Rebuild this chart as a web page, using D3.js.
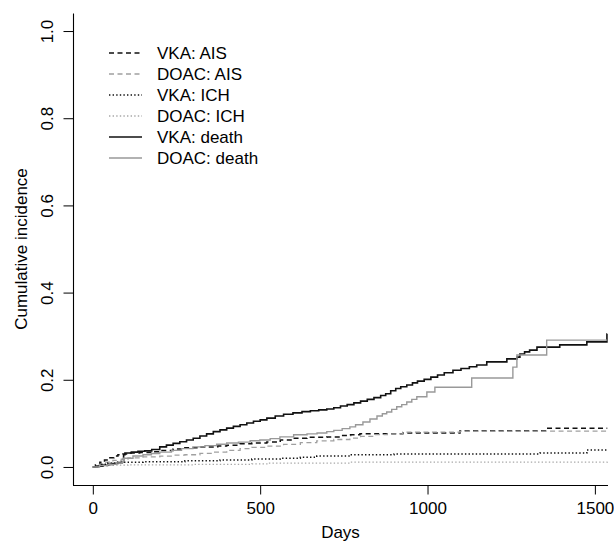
<!DOCTYPE html>
<html>
<head>
<meta charset="utf-8">
<title>Cumulative incidence</title>
<script src="https://d3js.org/d3.v7.min.js"></script>
<style>
  body { margin: 0; background: #fff; }
  svg text { font-family: "Liberation Sans", Arial, Helvetica, sans-serif; fill: #000; }
</style>
</head>
<body>
<div id="chart"></div>
<script>
// step data: [day, cumulative incidence]
var vkaDeath = [[0,0],[15,0.002],[30,0.004],[45,0.006],[60,0.008],[75,0.010],[88,0.012],[92,0.028],[96,0.032],[115,0.034],[135,0.036],[155,0.037],[176,0.040],[200,0.046],[220,0.050],[240,0.054],[260,0.058],[280,0.062],[300,0.066],[320,0.071],[340,0.076],[360,0.081],[380,0.085],[400,0.089],[420,0.093],[440,0.097],[460,0.101],[480,0.105],[500,0.108],[520,0.112],[545,0.117],[570,0.121],[598,0.124],[625,0.127],[650,0.129],[675,0.131],[699,0.133],[720,0.136],[740,0.140],[760,0.143],[780,0.147],[800,0.151],[820,0.155],[840,0.159],[860,0.164],[875,0.168],[890,0.175],[905,0.180],[920,0.184],[938,0.188],[955,0.193],[970,0.197],[990,0.201],[1010,0.206],[1030,0.211],[1050,0.216],[1076,0.222],[1100,0.226],[1125,0.230],[1147,0.234],[1177,0.241],[1237,0.248],[1267,0.252],[1276,0.259],[1290,0.264],[1305,0.268],[1327,0.275],[1395,0.280],[1476,0.287],[1536,0.305],[1537,0.305]];
var doacDeath = [[0,0],[20,0.003],[45,0.006],[70,0.009],[88,0.012],[92,0.020],[120,0.025],[150,0.028],[175,0.031],[200,0.034],[235,0.038],[265,0.042],[299,0.046],[335,0.049],[370,0.052],[400,0.055],[435,0.057],[470,0.060],[499,0.062],[530,0.065],[559,0.069],[600,0.074],[640,0.076],[670,0.078],[699,0.081],[720,0.084],[745,0.088],[768,0.092],[785,0.097],[807,0.103],[828,0.110],[849,0.117],[865,0.122],[878,0.126],[893,0.132],[908,0.138],[923,0.143],[938,0.149],[953,0.155],[968,0.161],[998,0.172],[1022,0.183],[1132,0.204],[1255,0.229],[1267,0.257],[1356,0.291],[1537,0.291]];
var vkaAis = [[0,0],[8,0.005],[21,0.011],[35,0.016],[51,0.021],[63,0.025],[75,0.028],[90,0.030],[105,0.032],[140,0.033],[176,0.035],[200,0.038],[240,0.041],[275,0.044],[320,0.046],[373,0.048],[400,0.050],[440,0.053],[475,0.055],[520,0.057],[560,0.062],[598,0.066],[640,0.068],[699,0.069],[740,0.072],[770,0.074],[798,0.076],[926,0.078],[1097,0.083],[1356,0.089],[1537,0.089]];
var doacAis = [[0,0],[15,0.006],[35,0.011],[60,0.015],[85,0.018],[105,0.021],[150,0.023],[200,0.025],[240,0.027],[275,0.028],[320,0.031],[360,0.034],[400,0.038],[440,0.042],[475,0.045],[520,0.048],[570,0.052],[620,0.056],[669,0.060],[720,0.063],[768,0.066],[800,0.070],[840,0.074],[880,0.076],[926,0.080],[1097,0.082],[1537,0.082]];
var vkaIch = [[0,0],[10,0.003],[25,0.006],[45,0.009],[66,0.011],[150,0.012],[275,0.014],[380,0.016],[475,0.018],[560,0.020],[620,0.022],[669,0.025],[768,0.028],[900,0.030],[1336,0.032],[1476,0.039],[1537,0.039]];
var doacIch = [[0,0],[20,0.002],[50,0.004],[105,0.005],[300,0.006],[475,0.007],[520,0.009],[768,0.011],[1537,0.012]];

var seriesNames = ["VKA: AIS", "DOAC: AIS", "VKA: ICH", "DOAC: ICH", "VKA: death", "DOAC: death"];
var seriesData = [vkaAis, doacAis, vkaIch, doacIch, vkaDeath, doacDeath];

var xTicks = [0, 500, 1000, 1500];
var yTicks = [0, 0.2, 0.4, 0.6, 0.8, 1.0];

// line styles, same order as the names
var styles = [
    {color: "#111", width: 1.5, dash: "5,3.5"},
    {color: "#a0a0a0", width: 1.3, dash: "5,3.5"},
    {color: "#111", width: 1.5, dash: "1.4,2.2"},
    {color: "#a8a8a8", width: 1.3, dash: "1.4,2.2"},
    {color: "#111", width: 1.6, dash: null},
    {color: "#999", width: 1.4, dash: null}
];

var width = 614, height = 542;
var fontSize = 17;

var svg = d3.select("#chart").append("svg")
    .attr("width", width)
    .attr("height", height);

// R style: 4% padding round the data range
var x = d3.scaleLinear().domain([-59.2, 1539.2]).range([73, 608]);
var y = d3.scaleLinear().domain([-0.04, 1.04]).range([484.4, 13.6]);

var line = d3.line()
    .x(function(d) { return x(d[0]); })
    .y(function(d) { return y(d[1]); })
    .curve(d3.curveStepAfter);

for (let i = 0; i < seriesData.length; i++) {
    let p = svg.append("path")
        .attr("d", line(seriesData[i]))
        .attr("fill", "none")
        .attr("stroke", styles[i].color)
        .attr("stroke-width", styles[i].width);
    if (styles[i].dash) p.attr("stroke-dasharray", styles[i].dash);
}

// axes (box type "l")
var xAxis = d3.axisBottom(x).tickValues(xTicks).tickSize(9.5).tickPadding(7).tickFormat(d3.format("d"));
var gx = svg.append("g").attr("transform", "translate(0,485)").call(xAxis);
gx.select(".domain").attr("d", "M73,0.5H608");

var yAxis = d3.axisLeft(y).tickValues(yTicks).tickSize(9.5).tickFormat(d3.format(".1f"));
var gy = svg.append("g").attr("transform", "translate(73,0)").call(yAxis);
gy.select(".domain").attr("d", "M0.5,13.6V485");

svg.selectAll(".tick line").attr("stroke", "#000");
svg.selectAll(".domain").attr("stroke", "#000").attr("stroke-width", 1.1);
gx.selectAll("text").attr("font-size", fontSize).attr("font-family", null);

gy.selectAll("text")
    .attr("font-size", fontSize)
    .attr("font-family", null)
    .attr("x", null).attr("dy", null)
    .attr("text-anchor", "middle")
    .attr("transform", "translate(-20,0) rotate(-90)");

svg.append("text")
    .attr("x", (73 + 608) / 2).attr("y", 538)
    .attr("text-anchor", "middle")
    .attr("font-size", fontSize)
    .text("Days");

svg.append("text")
    .attr("transform", "translate(27," + y(0.5) + ") rotate(-90)")
    .attr("text-anchor", "middle")
    .attr("font-size", fontSize)
    .text("Cumulative incidence");

// legend
var legend = svg.append("g");
for (let i = 0; i < seriesNames.length; i++) {
    let ly = 53 + i * 21;
    let l = legend.append("line")
        .attr("x1", 109).attr("x2", 142)
        .attr("y1", ly).attr("y2", ly)
        .attr("stroke", styles[i].color)
        .attr("stroke-width", styles[i].width);
    if (styles[i].dash) l.attr("stroke-dasharray", styles[i].dash);
    legend.append("text")
        .attr("x", 157).attr("y", ly + 6)
        .attr("font-size", fontSize)
        .text(seriesNames[i]);
}
</script>
</body>
</html>
